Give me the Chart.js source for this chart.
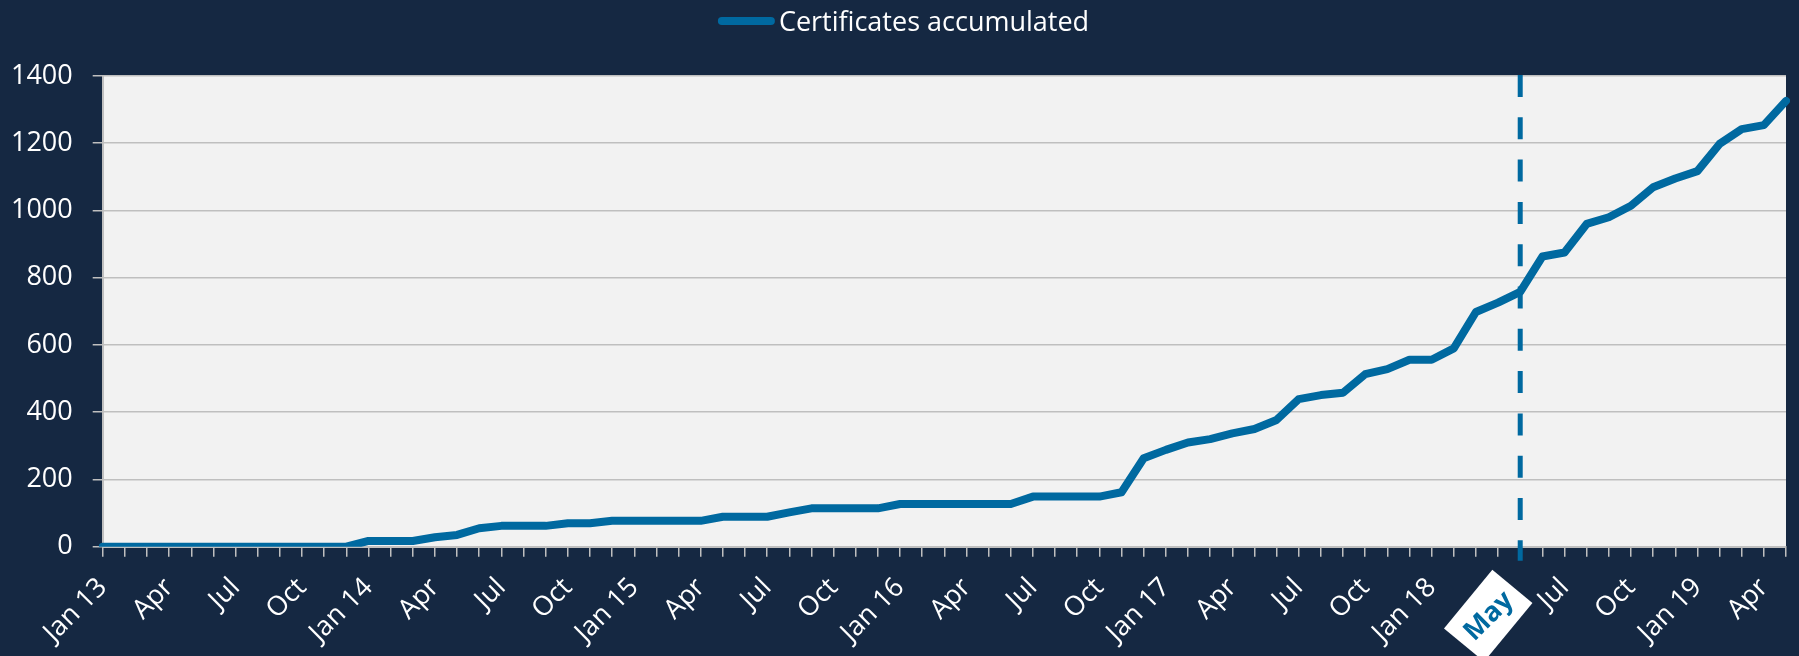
<!DOCTYPE html>
<html>
<head>
<meta charset="utf-8">
<script src="https://cdn.jsdelivr.net/npm/chart.js@4.4.1/dist/chart.umd.min.js"></script>
<style>
  html, body { margin: 0; padding: 0; background: #152842; overflow: hidden; }
  #wrap { width: 1799px; height: 656px; position: relative; }
  canvas { display: block; }
</style>
</head>
<body>
<div id="wrap"><canvas id="c" width="1799" height="656"></canvas></div>
<script>
// ---------- DATA ----------
const categories = [
  'Jan 13','Feb 13','Mar 13','Apr 13','May 13','Jun 13','Jul 13','Aug 13','Sep 13','Oct 13','Nov 13','Dec 13',
  'Jan 14','Feb 14','Mar 14','Apr 14','May 14','Jun 14','Jul 14','Aug 14','Sep 14','Oct 14','Nov 14','Dec 14',
  'Jan 15','Feb 15','Mar 15','Apr 15','May 15','Jun 15','Jul 15','Aug 15','Sep 15','Oct 15','Nov 15','Dec 15',
  'Jan 16','Feb 16','Mar 16','Apr 16','May 16','Jun 16','Jul 16','Aug 16','Sep 16','Oct 16','Nov 16','Dec 16',
  'Jan 17','Feb 17','Mar 17','Apr 17','May 17','Jun 17','Jul 17','Aug 17','Sep 17','Oct 17','Nov 17','Dec 17',
  'Jan 18','Feb 18','Mar 18','Apr 18','May 18','Jun 18','Jul 18','Aug 18','Sep 18','Oct 18','Nov 18','Dec 18',
  'Jan 19','Feb 19','Mar 19','Apr 19','May 19'
];

const certificatesAccumulated = [
  0, 0, 0, 0, 0, 0, 0, 0, 0, 0, 0, 0,
  17, 17, 17, 28, 35, 55, 62, 62, 62, 70, 70, 77,
  77, 77, 77, 77, 89, 89, 89, 102, 114, 114, 114, 114,
  127, 127, 127, 127, 127, 127, 149, 149, 149, 149, 162, 263,
  288, 310, 320, 337, 350, 377, 439, 451, 458, 513, 528, 556,
  556, 590, 698, 726, 758, 863, 875, 960, 980, 1014, 1069, 1095,
  1117, 1198, 1242, 1254, 1326
];

const tickLabels = [
  'Jan 13','','','Apr','','','Jul','','','Oct','','',
  'Jan 14','','','Apr','','','Jul','','','Oct','','',
  'Jan 15','','','Apr','','','Jul','','','Oct','','',
  'Jan 16','','','Apr','','','Jul','','','Oct','','',
  'Jan 17','','','Apr','','','Jul','','','Oct','','',
  'Jan 18','','','','May','','Jul','','','Oct','','',
  'Jan 19','','','Apr',''
];

const seriesLabel = 'Certificates accumulated';
const highlightIndex = 64;   // May 18: dashed marker + boxed label
const yMin = 0, yMax = 1400, yStep = 200;

// ---------- STYLE ----------
const NAVY = '#152842';
const PLOT_BG = '#f2f2f2';
const LINE = '#0069a0';
const GRID = '#bfbfbf';
const FONT = '"Open Sans", "Liberation Sans", sans-serif';
const FS = 27;

const bgPlugin = {
  id: 'bg',
  beforeDraw(chart) {
    const { ctx, chartArea: ca } = chart;
    ctx.save();
    ctx.fillStyle = NAVY;
    ctx.fillRect(0, 0, chart.width, chart.height);
    ctx.fillStyle = PLOT_BG;
    ctx.fillRect(ca.left, ca.top, ca.right - ca.left, ca.bottom - ca.top);
    ctx.restore();
  }
};

const refLinePlugin = {
  id: 'refLine',
  afterDatasetsDraw(chart) {
    const { ctx, scales: { x }, chartArea: ca } = chart;
    const px = x.getPixelForValue(highlightIndex);
    ctx.save();
    ctx.strokeStyle = LINE;
    ctx.lineWidth = 5;
    ctx.setLineDash([22, 20.3]);
    ctx.beginPath();
    ctx.moveTo(px, ca.top - 1);
    ctx.lineTo(px, ca.bottom + 14);
    ctx.stroke();
    ctx.restore();
  }
};

const legendPlugin = {
  id: 'customLegend',
  afterDraw(chart) {
    const { ctx } = chart;
    const ds = chart.data.datasets[0];
    ctx.save();
    ctx.font = FS + 'px ' + FONT;
    const tw = ctx.measureText(ds.label).width;
    const lineLen = 57, gap = 4;
    const total = lineLen + gap + tw;
    const x0 = chart.width / 2 + 4 - total / 2;
    ctx.strokeStyle = ds.borderColor;
    ctx.lineWidth = 8;
    ctx.lineCap = 'round';
    ctx.beginPath();
    ctx.moveTo(x0 + 4, 21);
    ctx.lineTo(x0 + lineLen - 4, 21);
    ctx.stroke();
    ctx.fillStyle = '#ffffff';
    ctx.textBaseline = 'alphabetic';
    ctx.textAlign = 'left';
    ctx.fillText(ds.label, x0 + lineLen + gap, 31);
    ctx.restore();
  }
};

const highlightLabelPlugin = {
  id: 'highlightLabel',
  afterDraw(chart) {
    const { ctx, scales: { x }, chartArea: ca } = chart;
    const px = x.getPixelForValue(highlightIndex);
    const cx = px - 32, cy = ca.bottom + 69;
    ctx.save();
    ctx.translate(cx, cy);
    ctx.rotate(-50.5 * Math.PI / 180);
    ctx.fillStyle = '#ffffff';
    ctx.fillRect(-38, -26, 76, 52);
    ctx.restore();
    ctx.save();
    ctx.translate(cx, cy);
    ctx.rotate(-Math.PI / 4);
    ctx.fillStyle = LINE;
    ctx.font = 'bold ' + FS + 'px ' + FONT;
    ctx.textAlign = 'center';
    ctx.textBaseline = 'middle';
    ctx.fillText(tickLabels[highlightIndex], 0, 1);
    ctx.restore();
  }
};

function build() {
  const ctx = document.getElementById('c').getContext('2d');
  new Chart(ctx, {
    type: 'line',
    data: {
      labels: categories,
      datasets: [{
        label: seriesLabel,
        data: certificatesAccumulated,
        borderColor: LINE,
        backgroundColor: LINE,
        borderWidth: 8,
        pointRadius: 0,
        pointHoverRadius: 0,
        tension: 0,
        borderJoinStyle: 'round',
        borderCapStyle: 'round',
        fill: false
      }]
    },
    options: {
      responsive: false,
      animation: false,
      devicePixelRatio: 1,
      layout: { padding: { top: 76, right: 13, left: 0, bottom: 0 } },
      plugins: {
        legend: { display: false },
        tooltip: { enabled: false }
      },
      scales: {
        x: {
          type: 'category',
          offset: false,
          grid: { display: true, drawOnChartArea: false, drawTicks: true, tickLength: 10, color: GRID, lineWidth: 1.5 },
          border: { display: true, color: GRID, width: 2 },
          ticks: {
            autoSkip: false,
            maxRotation: 45,
            minRotation: 45,
            padding: 15,
            color: (c) => c.index === highlightIndex ? 'rgba(0,0,0,0)' : '#ffffff',
            font: { family: FONT, size: FS },
            callback: (v, i) => tickLabels[i]
          },
          afterFit(s) { s.height = 109.3; s.paddingLeft = 0; s.paddingRight = 0; }
        },
        y: {
          min: yMin,
          max: yMax,
          ticks: {
            stepSize: yStep,
            color: '#ffffff',
            padding: 20,
            font: { family: FONT, size: FS },
            callback: (v) => String(v)
          },
          grid: { color: GRID, lineWidth: 1.5, tickLength: 10 },
          border: { display: true, color: GRID, width: 2 },
          afterFit(s) { s.width = 102.7; s.paddingTop = 0; s.paddingBottom = 0; }
        }
      }
    },
    plugins: [bgPlugin, refLinePlugin, legendPlugin, highlightLabelPlugin]
  });
}

if (document.fonts && document.fonts.load) {
  Promise.all([
    document.fonts.load(FS + 'px "Open Sans"'),
    document.fonts.load('bold ' + FS + 'px "Open Sans"')
  ]).then(build, build);
} else {
  build();
}
</script>
</body>
</html>
